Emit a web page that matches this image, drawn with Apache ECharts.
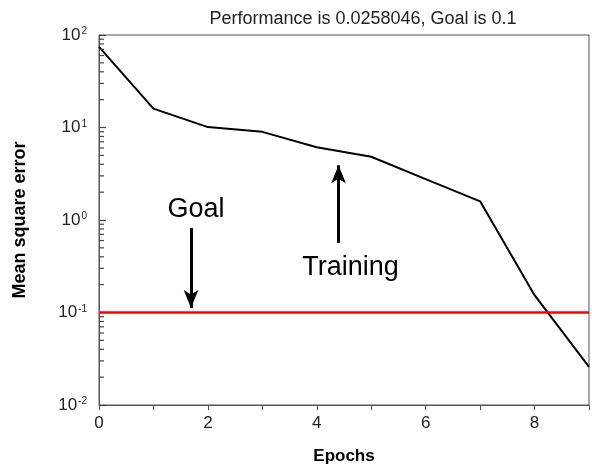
<!DOCTYPE html>
<html>
<head>
<meta charset="utf-8">
<script src="https://cdn.jsdelivr.net/npm/echarts@6/dist/echarts.min.js"></script>
<style>html,body{margin:0;padding:0;background:#fff;}#c{width:592px;height:470px;}</style>
</head>
<body>
<div id="c"></div>
<script>
const epochs = [0, 1, 2, 3, 4, 5, 6, 7, 8, 9];
const mse = [74.3, 16.0, 10.1, 8.97, 6.12, 4.83, 2.77, 1.59, 0.154, 0.0258046];
const goal = 0.1;
const xTickLabels = ['0', '2', '4', '6', '8'];
const yDecades = [-2, -1, 0, 1, 2];
const notes = [
  { text: 'Goal', x: 1.78, y: 1.3 },
  { text: 'Training', x: 4.62, y: 0.31 }
];
const arrows = [
  { from: [1.69, 0.82], to: [1.69, 0.112] },
  { from: [4.40, 0.566], to: [4.40, 3.9] }
];
const titleText = 'Performance is 0.0258046, Goal is 0.1';

const FONT = 'Arial, "Liberation Sans", Helvetica, sans-serif';
// The y axis is logarithmic: values are placed on a decade (log10) scale.
const L = v => Math.log10(v);
const yMinorExps = [];
for (let i = 0; i < yDecades.length - 1; i++) {
  for (let m = 2; m <= 9; m++) yMinorExps.push(yDecades[i] + Math.log10(m));
}

const chart = echarts.init(document.getElementById('c'), null, { renderer: 'canvas' });
chart.setOption({
  animation: false,
  backgroundColor: '#fff',
  title: {
    text: titleText, left: 358, top: 5, textAlign: 'center',
    textStyle: { fontFamily: FONT, fontSize: 18, fontWeight: 'normal', color: '#222' }
  },
  grid: { show: true, left: 99, top: 35, width: 498, height: 372, borderColor: '#555', borderWidth: 1 },
  xAxis: {
    type: 'value', min: 0, max: 9, interval: 1,
    name: 'Epochs', nameLocation: 'middle', nameGap: 43,
    nameTextStyle: { fontFamily: FONT, fontSize: 17, fontWeight: 'bold', color: '#000' },
    axisLine: { onZero: false, lineStyle: { color: '#555', width: 1 } },
    axisTick: { show: true, inside: false, length: 5, lineStyle: { color: '#555' } },
    axisLabel: {
      margin: 10, fontFamily: FONT, fontSize: 17, color: '#222',
      formatter: v => xTickLabels.indexOf(String(v)) >= 0 ? String(v) : ''
    },
    splitLine: { show: false }
  },
  yAxis: {
    type: 'value', min: yDecades[0], max: yDecades[yDecades.length - 1], interval: 1,
    name: 'Mean square error', nameLocation: 'middle', nameGap: 70,
    nameTextStyle: { fontFamily: FONT, fontSize: 18, fontWeight: 'bold', color: '#000' },
    axisLine: { show: true, onZero: false, lineStyle: { color: '#555', width: 1 } },
    axisTick: { show: true, inside: true, length: 7, lineStyle: { color: '#444', width: 1.2 } },
    axisLabel: {
      margin: 12, fontFamily: FONT, fontSize: 17, color: '#222',
      formatter: v => '10{s|' + Math.round(v) + '}',
      rich: { s: { fontFamily: FONT, fontSize: 10, color: '#222', verticalAlign: 'top', padding: [0, 0, 4, 1] } }
    },
    splitLine: { show: false }
  },
  series: [
    {
      type: 'custom', name: 'yMinorTicks', silent: true, clip: false, z: 5,
      data: yMinorExps.map(v => [0, v]),
      encode: { x: 0, y: 1 },
      renderItem: (params, api) => {
        const p = api.coord([api.value(0), api.value(1)]);
        return {
          type: 'line',
          shape: { x1: p[0], y1: p[1], x2: p[0] + 5, y2: p[1] },
          style: { stroke: '#444', lineWidth: 1.2 }
        };
      }
    },
    {
      type: 'line', name: 'Training',
      data: epochs.map((e, i) => [e, L(mse[i])]),
      symbol: 'none', lineStyle: { color: '#000', width: 2 }, itemStyle: { color: '#000' },
      markLine: {
        silent: true, symbol: 'none', label: { show: false },
        lineStyle: { color: '#ff0000', width: 2.5, type: 'solid' },
        data: [{ yAxis: L(goal) }]
      },
      z: 3
    },
    {
      type: 'line', name: 'notes', data: [], symbol: 'none',
      markLine: {
        silent: true, symbol: ['none', 'arrow'], symbolSize: [11, 18], label: { show: false },
        lineStyle: { color: '#000', width: 3, type: 'solid' },
        data: arrows.map(a => [{ coord: [a.from[0], L(a.from[1])] }, { coord: [a.to[0], L(a.to[1])] }])
      },
      markPoint: {
        silent: true, symbol: 'circle', symbolSize: 0,
        label: { show: true, position: 'inside', formatter: '{b}', fontFamily: FONT, fontSize: 27, color: '#000' },
        data: notes.map(n => ({ name: n.text, coord: [n.x, L(n.y)] }))
      }
    }
  ]
});
</script>
</body>
</html>
